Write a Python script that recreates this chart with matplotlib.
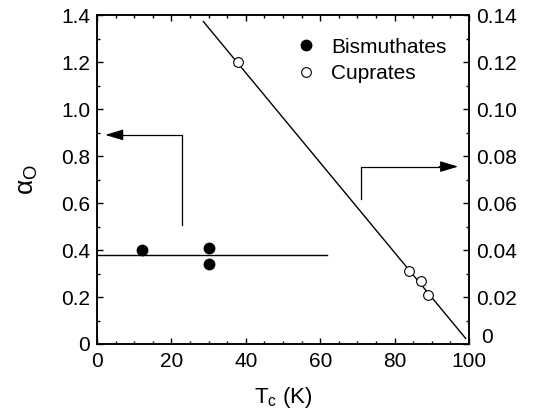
import numpy as np
import matplotlib
matplotlib.use("Agg")
import matplotlib.pyplot as plt
from matplotlib.ticker import MultipleLocator, FuncFormatter

plt.rcParams['font.family'] = ['Liberation Sans', 'DejaVu Sans']
plt.rcParams['mathtext.fontset'] = 'custom'
plt.rcParams['mathtext.rm'] = 'Liberation Sans'
plt.rcParams['mathtext.it'] = 'Liberation Sans'

# bismuthates, left axis (alpha_O)
bi_tc = [12.0, 30.0, 30.0]
bi_alpha = [0.40, 0.41, 0.34]
bi_mean = 0.38
bi_mean_tc = [0.0, 61.8]

# cuprates, right axis
cu_tc = [38.0, 84.0, 87.0, 89.0]
cu_alpha = [0.120, 0.031, 0.027, 0.021]
cu_fit_tc = [28.6, 99.1]
cu_fit_alpha = [0.1374, 0.0024]

fig = plt.figure(figsize=(5.4, 4.15), dpi=100)
ax = fig.add_axes([0.1796, 0.1711, 0.6889, 0.7916])
ax2 = ax.twinx()

ax.set_xlim(0, 100)
ax.set_ylim(0, 1.4)
ax2.set_ylim(0, 0.14)

fs = 15
ax.plot(bi_mean_tc, [bi_mean, bi_mean], color='black', lw=1.0)
h1, = ax.plot(bi_tc, bi_alpha, 'o', color='black', ms=7.5, label='Bismuthates', zorder=3)

ax2.plot(cu_fit_tc, cu_fit_alpha, color='black', lw=1.0)
h2, = ax2.plot(cu_tc, cu_alpha, 'o', mfc='white', mec='black', mew=0.8, ms=7,
               label='Cuprates', zorder=3)

# arrows pointing to the relevant axis
arrow_style = dict(arrowstyle='-|>,head_length=1.0,head_width=0.3', color='black',
                   lw=0.9, mutation_scale=11, shrinkA=0, shrinkB=0)
ax.plot([22.8, 22.8, 6.0], [0.507, 0.891, 0.891], color='black', lw=0.9)
ax.annotate('', xy=(2.2, 0.891), xytext=(6.5, 0.891), arrowprops=arrow_style)
ax.plot([71.0, 71.0, 92.0], [0.617, 0.756, 0.756], color='black', lw=0.9)
ax.annotate('', xy=(97.1, 0.756), xytext=(92.0, 0.756), arrowprops=arrow_style)

ax.legend(handles=[h1, h2], loc='upper left', bbox_to_anchor=(0.512, 0.958),
          frameon=False, fontsize=fs, handlelength=1.0, handletextpad=0.7,
          labelspacing=0.35, borderaxespad=0)

ax.xaxis.set_major_locator(MultipleLocator(20))
ax.xaxis.set_minor_locator(MultipleLocator(5))
ax.yaxis.set_major_locator(MultipleLocator(0.2))
ax.yaxis.set_minor_locator(MultipleLocator(0.1))
ax2.yaxis.set_major_locator(MultipleLocator(0.02))
ax2.yaxis.set_minor_locator(MultipleLocator(0.01))

ax.yaxis.set_major_formatter(FuncFormatter(lambda v, p: '0' if abs(v) < 1e-9 else f'{v:.1f}'))
# right-hand "0" is written separately, a little above its tick
ax2.yaxis.set_major_formatter(FuncFormatter(lambda v, p: '' if abs(v) < 1e-9 else f'{v:.2f}'))
ax2.annotate('0', xy=(1, 0), xycoords='axes fraction', xytext=(9, 4.5),
             textcoords='offset points', ha='left', va='center', fontsize=fs)

ax.tick_params(axis='x', which='both', direction='in', top=True, labelsize=fs, pad=6)
ax.tick_params(axis='y', which='both', direction='in', left=True, right=False, labelsize=fs, pad=5)
ax2.tick_params(axis='y', which='both', direction='in', labelsize=fs, pad=5)
for a in (ax, ax2):
    a.tick_params(which='major', length=4, width=1.0)
    a.tick_params(which='minor', length=2.5, width=1.0)
    for s in a.spines.values():
        s.set_linewidth(1.1)

ax.set_xlabel(r'T$_\mathrm{c}$ (K)', fontsize=fs + 1, labelpad=10)
ax.set_ylabel(r'$\alpha_\mathrm{O}$', fontsize=fs + 4, labelpad=15)

fig.savefig('out.png', dpi=100)
